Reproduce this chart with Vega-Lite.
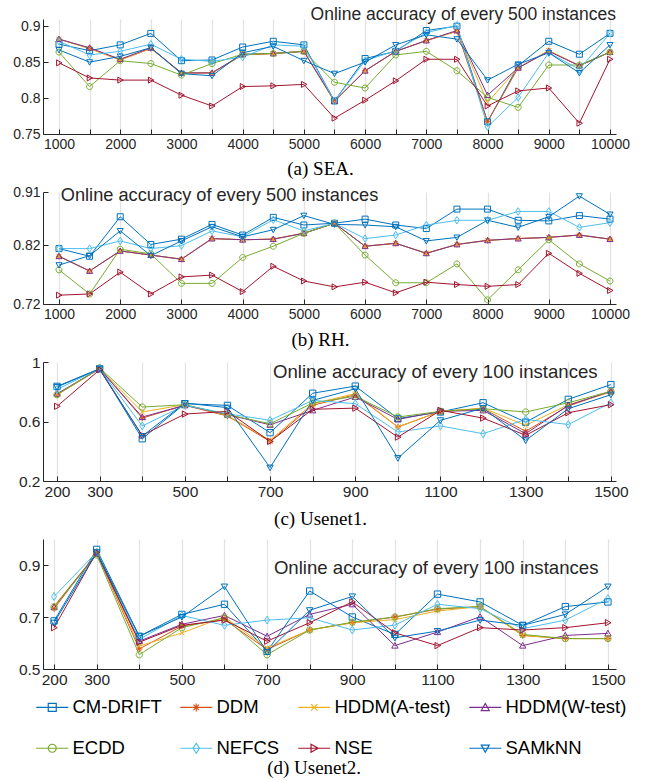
{
 "$schema": "https://vega.github.io/schema/vega-lite/v6.json",
 "padding": {"left": 12, "top": 5, "right": 5, "bottom": 0},
 "background": "white",
 "bounds": "flush",
 "spacing": 58,
 "title": {"text": "(d) Usenet2.", "orient": "bottom", "anchor": "middle", "font": "Liberation Serif", "fontSize": 19, "fontWeight": "normal", "color": "black", "offset": 1, "dx": -7},
 "resolve": {"scale": {"x": "independent", "y": "independent", "color": "shared", "shape": "shared"}},
 "datasets": {
  "sea": [
   {"m":"CM-DRIFT","x":1000,"y":0.875},{"m":"CM-DRIFT","x":1500,"y":0.866},{"m":"CM-DRIFT","x":2000,"y":0.874},{"m":"CM-DRIFT","x":2500,"y":0.890},{"m":"CM-DRIFT","x":3000,"y":0.852},{"m":"CM-DRIFT","x":3500,"y":0.853},{"m":"CM-DRIFT","x":4000,"y":0.871},{"m":"CM-DRIFT","x":4500,"y":0.879},{"m":"CM-DRIFT","x":5000,"y":0.874},{"m":"CM-DRIFT","x":5500,"y":0.796},{"m":"CM-DRIFT","x":6000,"y":0.855},{"m":"CM-DRIFT","x":6500,"y":0.865},{"m":"CM-DRIFT","x":7000,"y":0.894},{"m":"CM-DRIFT","x":7500,"y":0.900},{"m":"CM-DRIFT","x":8000,"y":0.767},{"m":"CM-DRIFT","x":8500,"y":0.845},{"m":"CM-DRIFT","x":9000,"y":0.879},{"m":"CM-DRIFT","x":9500,"y":0.861},{"m":"CM-DRIFT","x":10000,"y":0.890},
   {"m":"DDM","x":1000,"y":0.882},{"m":"DDM","x":1500,"y":0.869},{"m":"DDM","x":2000,"y":0.853},{"m":"DDM","x":2500,"y":0.869},{"m":"DDM","x":3000,"y":0.835},{"m":"DDM","x":3500,"y":0.835},{"m":"DDM","x":4000,"y":0.860},{"m":"DDM","x":4500,"y":0.862},{"m":"DDM","x":5000,"y":0.865},{"m":"DDM","x":5500,"y":0.795},{"m":"DDM","x":6000,"y":0.838},{"m":"DDM","x":6500,"y":0.865},{"m":"DDM","x":7000,"y":0.880},{"m":"DDM","x":7500,"y":0.893},{"m":"DDM","x":8000,"y":0.767},{"m":"DDM","x":8500,"y":0.842},{"m":"DDM","x":9000,"y":0.866},{"m":"DDM","x":9500,"y":0.845},{"m":"DDM","x":10000,"y":0.864},
   {"m":"HDDM(A-test)","x":1000,"y":0.882},{"m":"HDDM(A-test)","x":1500,"y":0.869},{"m":"HDDM(A-test)","x":2000,"y":0.853},{"m":"HDDM(A-test)","x":2500,"y":0.869},{"m":"HDDM(A-test)","x":3000,"y":0.835},{"m":"HDDM(A-test)","x":3500,"y":0.835},{"m":"HDDM(A-test)","x":4000,"y":0.860},{"m":"HDDM(A-test)","x":4500,"y":0.862},{"m":"HDDM(A-test)","x":5000,"y":0.865},{"m":"HDDM(A-test)","x":5500,"y":0.795},{"m":"HDDM(A-test)","x":6000,"y":0.838},{"m":"HDDM(A-test)","x":6500,"y":0.865},{"m":"HDDM(A-test)","x":7000,"y":0.880},{"m":"HDDM(A-test)","x":7500,"y":0.893},{"m":"HDDM(A-test)","x":8000,"y":0.794},{"m":"HDDM(A-test)","x":8500,"y":0.842},{"m":"HDDM(A-test)","x":9000,"y":0.866},{"m":"HDDM(A-test)","x":9500,"y":0.845},{"m":"HDDM(A-test)","x":10000,"y":0.864},
   {"m":"HDDM(W-test)","x":1000,"y":0.882},{"m":"HDDM(W-test)","x":1500,"y":0.870},{"m":"HDDM(W-test)","x":2000,"y":0.854},{"m":"HDDM(W-test)","x":2500,"y":0.870},{"m":"HDDM(W-test)","x":3000,"y":0.835},{"m":"HDDM(W-test)","x":3500,"y":0.835},{"m":"HDDM(W-test)","x":4000,"y":0.861},{"m":"HDDM(W-test)","x":4500,"y":0.862},{"m":"HDDM(W-test)","x":5000,"y":0.865},{"m":"HDDM(W-test)","x":5500,"y":0.796},{"m":"HDDM(W-test)","x":6000,"y":0.838},{"m":"HDDM(W-test)","x":6500,"y":0.865},{"m":"HDDM(W-test)","x":7000,"y":0.880},{"m":"HDDM(W-test)","x":7500,"y":0.894},{"m":"HDDM(W-test)","x":8000,"y":0.804},{"m":"HDDM(W-test)","x":8500,"y":0.842},{"m":"HDDM(W-test)","x":9000,"y":0.865},{"m":"HDDM(W-test)","x":9500,"y":0.845},{"m":"HDDM(W-test)","x":10000,"y":0.864},
   {"m":"ECDD","x":1000,"y":0.864},{"m":"ECDD","x":1500,"y":0.816},{"m":"ECDD","x":2000,"y":0.852},{"m":"ECDD","x":2500,"y":0.848},{"m":"ECDD","x":3000,"y":0.832},{"m":"ECDD","x":3500,"y":0.848},{"m":"ECDD","x":4000,"y":0.861},{"m":"ECDD","x":4500,"y":0.862},{"m":"ECDD","x":5000,"y":0.865},{"m":"ECDD","x":5500,"y":0.822},{"m":"ECDD","x":6000,"y":0.814},{"m":"ECDD","x":6500,"y":0.860},{"m":"ECDD","x":7000,"y":0.865},{"m":"ECDD","x":7500,"y":0.838},{"m":"ECDD","x":8000,"y":0.801},{"m":"ECDD","x":8500,"y":0.787},{"m":"ECDD","x":9000,"y":0.846},{"m":"ECDD","x":9500,"y":0.846},{"m":"ECDD","x":10000,"y":0.864},
   {"m":"NEFCS","x":1000,"y":0.879},{"m":"NEFCS","x":1500,"y":0.860},{"m":"NEFCS","x":2000,"y":0.865},{"m":"NEFCS","x":2500,"y":0.875},{"m":"NEFCS","x":3000,"y":0.854},{"m":"NEFCS","x":3500,"y":0.851},{"m":"NEFCS","x":4000,"y":0.857},{"m":"NEFCS","x":4500,"y":0.874},{"m":"NEFCS","x":5000,"y":0.872},{"m":"NEFCS","x":5500,"y":0.796},{"m":"NEFCS","x":6000,"y":0.852},{"m":"NEFCS","x":6500,"y":0.866},{"m":"NEFCS","x":7000,"y":0.891},{"m":"NEFCS","x":7500,"y":0.901},{"m":"NEFCS","x":8000,"y":0.760},{"m":"NEFCS","x":8500,"y":0.801},{"m":"NEFCS","x":9000,"y":0.863},{"m":"NEFCS","x":9500,"y":0.840},{"m":"NEFCS","x":10000,"y":0.890},
   {"m":"NSE","x":1000,"y":0.849},{"m":"NSE","x":1500,"y":0.828},{"m":"NSE","x":2000,"y":0.825},{"m":"NSE","x":2500,"y":0.825},{"m":"NSE","x":3000,"y":0.804},{"m":"NSE","x":3500,"y":0.789},{"m":"NSE","x":4000,"y":0.816},{"m":"NSE","x":4500,"y":0.817},{"m":"NSE","x":5000,"y":0.819},{"m":"NSE","x":5500,"y":0.772},{"m":"NSE","x":6000,"y":0.797},{"m":"NSE","x":6500,"y":0.824},{"m":"NSE","x":7000,"y":0.854},{"m":"NSE","x":7500,"y":0.854},{"m":"NSE","x":8000,"y":0.789},{"m":"NSE","x":8500,"y":0.810},{"m":"NSE","x":9000,"y":0.814},{"m":"NSE","x":9500,"y":0.765},{"m":"NSE","x":10000,"y":0.854},
   {"m":"SAMkNN","x":1000,"y":0.867},{"m":"SAMkNN","x":1500,"y":0.850},{"m":"SAMkNN","x":2000,"y":0.858},{"m":"SAMkNN","x":2500,"y":0.870},{"m":"SAMkNN","x":3000,"y":0.834},{"m":"SAMkNN","x":3500,"y":0.831},{"m":"SAMkNN","x":4000,"y":0.863},{"m":"SAMkNN","x":4500,"y":0.872},{"m":"SAMkNN","x":5000,"y":0.852},{"m":"SAMkNN","x":5500,"y":0.834},{"m":"SAMkNN","x":6000,"y":0.850},{"m":"SAMkNN","x":6500,"y":0.874},{"m":"SAMkNN","x":7000,"y":0.888},{"m":"SAMkNN","x":7500,"y":0.882},{"m":"SAMkNN","x":8000,"y":0.825},{"m":"SAMkNN","x":8500,"y":0.847},{"m":"SAMkNN","x":9000,"y":0.863},{"m":"SAMkNN","x":9500,"y":0.835},{"m":"SAMkNN","x":10000,"y":0.874}
  ],
  "rh": [
   {"m":"CM-DRIFT","x":1000,"y":0.814},{"m":"CM-DRIFT","x":1500,"y":0.801},{"m":"CM-DRIFT","x":2000,"y":0.868},{"m":"CM-DRIFT","x":2500,"y":0.821},{"m":"CM-DRIFT","x":3000,"y":0.830},{"m":"CM-DRIFT","x":3500,"y":0.855},{"m":"CM-DRIFT","x":4000,"y":0.837},{"m":"CM-DRIFT","x":4500,"y":0.867},{"m":"CM-DRIFT","x":5000,"y":0.854},{"m":"CM-DRIFT","x":5500,"y":0.857},{"m":"CM-DRIFT","x":6000,"y":0.864},{"m":"CM-DRIFT","x":6500,"y":0.854},{"m":"CM-DRIFT","x":7000,"y":0.848},{"m":"CM-DRIFT","x":7500,"y":0.881},{"m":"CM-DRIFT","x":8000,"y":0.881},{"m":"CM-DRIFT","x":8500,"y":0.862},{"m":"CM-DRIFT","x":9000,"y":0.861},{"m":"CM-DRIFT","x":9500,"y":0.870},{"m":"CM-DRIFT","x":10000,"y":0.864},
   {"m":"DDM","x":1000,"y":0.801},{"m":"DDM","x":1500,"y":0.776},{"m":"DDM","x":2000,"y":0.810},{"m":"DDM","x":2500,"y":0.803},{"m":"DDM","x":3000,"y":0.796},{"m":"DDM","x":3500,"y":0.831},{"m":"DDM","x":4000,"y":0.829},{"m":"DDM","x":4500,"y":0.830},{"m":"DDM","x":5000,"y":0.840},{"m":"DDM","x":5500,"y":0.857},{"m":"DDM","x":6000,"y":0.818},{"m":"DDM","x":6500,"y":0.823},{"m":"DDM","x":7000,"y":0.806},{"m":"DDM","x":7500,"y":0.821},{"m":"DDM","x":8000,"y":0.828},{"m":"DDM","x":8500,"y":0.831},{"m":"DDM","x":9000,"y":0.833},{"m":"DDM","x":9500,"y":0.837},{"m":"DDM","x":10000,"y":0.830},
   {"m":"HDDM(A-test)","x":1000,"y":0.801},{"m":"HDDM(A-test)","x":1500,"y":0.776},{"m":"HDDM(A-test)","x":2000,"y":0.810},{"m":"HDDM(A-test)","x":2500,"y":0.803},{"m":"HDDM(A-test)","x":3000,"y":0.796},{"m":"HDDM(A-test)","x":3500,"y":0.831},{"m":"HDDM(A-test)","x":4000,"y":0.829},{"m":"HDDM(A-test)","x":4500,"y":0.830},{"m":"HDDM(A-test)","x":5000,"y":0.840},{"m":"HDDM(A-test)","x":5500,"y":0.857},{"m":"HDDM(A-test)","x":6000,"y":0.818},{"m":"HDDM(A-test)","x":6500,"y":0.823},{"m":"HDDM(A-test)","x":7000,"y":0.806},{"m":"HDDM(A-test)","x":7500,"y":0.821},{"m":"HDDM(A-test)","x":8000,"y":0.828},{"m":"HDDM(A-test)","x":8500,"y":0.831},{"m":"HDDM(A-test)","x":9000,"y":0.833},{"m":"HDDM(A-test)","x":9500,"y":0.837},{"m":"HDDM(A-test)","x":10000,"y":0.830},
   {"m":"HDDM(W-test)","x":1000,"y":0.801},{"m":"HDDM(W-test)","x":1500,"y":0.776},{"m":"HDDM(W-test)","x":2000,"y":0.810},{"m":"HDDM(W-test)","x":2500,"y":0.803},{"m":"HDDM(W-test)","x":3000,"y":0.796},{"m":"HDDM(W-test)","x":3500,"y":0.831},{"m":"HDDM(W-test)","x":4000,"y":0.829},{"m":"HDDM(W-test)","x":4500,"y":0.830},{"m":"HDDM(W-test)","x":5000,"y":0.840},{"m":"HDDM(W-test)","x":5500,"y":0.857},{"m":"HDDM(W-test)","x":6000,"y":0.818},{"m":"HDDM(W-test)","x":6500,"y":0.823},{"m":"HDDM(W-test)","x":7000,"y":0.806},{"m":"HDDM(W-test)","x":7500,"y":0.821},{"m":"HDDM(W-test)","x":8000,"y":0.828},{"m":"HDDM(W-test)","x":8500,"y":0.831},{"m":"HDDM(W-test)","x":9000,"y":0.833},{"m":"HDDM(W-test)","x":9500,"y":0.837},{"m":"HDDM(W-test)","x":10000,"y":0.830},
   {"m":"ECDD","x":1000,"y":0.778},{"m":"ECDD","x":1500,"y":0.737},{"m":"ECDD","x":2000,"y":0.813},{"m":"ECDD","x":2500,"y":0.805},{"m":"ECDD","x":3000,"y":0.755},{"m":"ECDD","x":3500,"y":0.755},{"m":"ECDD","x":4000,"y":0.799},{"m":"ECDD","x":4500,"y":0.818},{"m":"ECDD","x":5000,"y":0.840},{"m":"ECDD","x":5500,"y":0.857},{"m":"ECDD","x":6000,"y":0.803},{"m":"ECDD","x":6500,"y":0.756},{"m":"ECDD","x":7000,"y":0.756},{"m":"ECDD","x":7500,"y":0.788},{"m":"ECDD","x":8000,"y":0.727},{"m":"ECDD","x":8500,"y":0.778},{"m":"ECDD","x":9000,"y":0.829},{"m":"ECDD","x":9500,"y":0.788},{"m":"ECDD","x":10000,"y":0.759},
   {"m":"NEFCS","x":1000,"y":0.814},{"m":"NEFCS","x":1500,"y":0.814},{"m":"NEFCS","x":2000,"y":0.827},{"m":"NEFCS","x":2500,"y":0.814},{"m":"NEFCS","x":3000,"y":0.819},{"m":"NEFCS","x":3500,"y":0.844},{"m":"NEFCS","x":4000,"y":0.834},{"m":"NEFCS","x":4500,"y":0.863},{"m":"NEFCS","x":5000,"y":0.844},{"m":"NEFCS","x":5500,"y":0.857},{"m":"NEFCS","x":6000,"y":0.831},{"m":"NEFCS","x":6500,"y":0.837},{"m":"NEFCS","x":7000,"y":0.854},{"m":"NEFCS","x":7500,"y":0.862},{"m":"NEFCS","x":8000,"y":0.862},{"m":"NEFCS","x":8500,"y":0.877},{"m":"NEFCS","x":9000,"y":0.877},{"m":"NEFCS","x":9500,"y":0.850},{"m":"NEFCS","x":10000,"y":0.858},
   {"m":"NSE","x":1000,"y":0.735},{"m":"NSE","x":1500,"y":0.737},{"m":"NSE","x":2000,"y":0.774},{"m":"NSE","x":2500,"y":0.737},{"m":"NSE","x":3000,"y":0.766},{"m":"NSE","x":3500,"y":0.769},{"m":"NSE","x":4000,"y":0.741},{"m":"NSE","x":4500,"y":0.784},{"m":"NSE","x":5000,"y":0.759},{"m":"NSE","x":5500,"y":0.749},{"m":"NSE","x":6000,"y":0.757},{"m":"NSE","x":6500,"y":0.739},{"m":"NSE","x":7000,"y":0.757},{"m":"NSE","x":7500,"y":0.753},{"m":"NSE","x":8000,"y":0.750},{"m":"NSE","x":8500,"y":0.753},{"m":"NSE","x":9000,"y":0.806},{"m":"NSE","x":9500,"y":0.772},{"m":"NSE","x":10000,"y":0.743},
   {"m":"SAMkNN","x":1000,"y":0.786},{"m":"SAMkNN","x":1500,"y":0.802},{"m":"SAMkNN","x":2000,"y":0.844},{"m":"SAMkNN","x":2500,"y":0.802},{"m":"SAMkNN","x":3000,"y":0.827},{"m":"SAMkNN","x":3500,"y":0.851},{"m":"SAMkNN","x":4000,"y":0.834},{"m":"SAMkNN","x":4500,"y":0.846},{"m":"SAMkNN","x":5000,"y":0.870},{"m":"SAMkNN","x":5500,"y":0.855},{"m":"SAMkNN","x":6000,"y":0.854},{"m":"SAMkNN","x":6500,"y":0.851},{"m":"SAMkNN","x":7000,"y":0.827},{"m":"SAMkNN","x":7500,"y":0.833},{"m":"SAMkNN","x":8000,"y":0.862},{"m":"SAMkNN","x":8500,"y":0.850},{"m":"SAMkNN","x":9000,"y":0.868},{"m":"SAMkNN","x":9500,"y":0.903},{"m":"SAMkNN","x":10000,"y":0.872}
  ],
  "u1": [
   {"m":"CM-DRIFT","x":200,"y":0.836},{"m":"CM-DRIFT","x":300,"y":0.955},{"m":"CM-DRIFT","x":400,"y":0.484},{"m":"CM-DRIFT","x":500,"y":0.720},{"m":"CM-DRIFT","x":600,"y":0.708},{"m":"CM-DRIFT","x":700,"y":0.525},{"m":"CM-DRIFT","x":800,"y":0.790},{"m":"CM-DRIFT","x":900,"y":0.838},{"m":"CM-DRIFT","x":1000,"y":0.620},{"m":"CM-DRIFT","x":1100,"y":0.664},{"m":"CM-DRIFT","x":1200,"y":0.726},{"m":"CM-DRIFT","x":1300,"y":0.596},{"m":"CM-DRIFT","x":1400,"y":0.749},{"m":"CM-DRIFT","x":1500,"y":0.848},
   {"m":"DDM","x":200,"y":0.780},{"m":"DDM","x":300,"y":0.955},{"m":"DDM","x":400,"y":0.623},{"m":"DDM","x":500,"y":0.709},{"m":"DDM","x":600,"y":0.637},{"m":"DDM","x":700,"y":0.466},{"m":"DDM","x":800,"y":0.709},{"m":"DDM","x":900,"y":0.780},{"m":"DDM","x":1000,"y":0.563},{"m":"DDM","x":1100,"y":0.668},{"m":"DDM","x":1200,"y":0.686},{"m":"DDM","x":1300,"y":0.534},{"m":"DDM","x":1400,"y":0.704},{"m":"DDM","x":1500,"y":0.803},
   {"m":"HDDM(A-test)","x":200,"y":0.780},{"m":"HDDM(A-test)","x":300,"y":0.955},{"m":"HDDM(A-test)","x":400,"y":0.664},{"m":"HDDM(A-test)","x":500,"y":0.713},{"m":"HDDM(A-test)","x":600,"y":0.641},{"m":"HDDM(A-test)","x":700,"y":0.473},{"m":"HDDM(A-test)","x":800,"y":0.720},{"m":"HDDM(A-test)","x":900,"y":0.787},{"m":"HDDM(A-test)","x":1000,"y":0.563},{"m":"HDDM(A-test)","x":1100,"y":0.668},{"m":"HDDM(A-test)","x":1200,"y":0.690},{"m":"HDDM(A-test)","x":1300,"y":0.574},{"m":"HDDM(A-test)","x":1400,"y":0.713},{"m":"HDDM(A-test)","x":1500,"y":0.798},
   {"m":"HDDM(W-test)","x":200,"y":0.787},{"m":"HDDM(W-test)","x":300,"y":0.955},{"m":"HDDM(W-test)","x":400,"y":0.630},{"m":"HDDM(W-test)","x":500,"y":0.709},{"m":"HDDM(W-test)","x":600,"y":0.646},{"m":"HDDM(W-test)","x":700,"y":0.578},{"m":"HDDM(W-test)","x":800,"y":0.675},{"m":"HDDM(W-test)","x":900,"y":0.765},{"m":"HDDM(W-test)","x":1000,"y":0.614},{"m":"HDDM(W-test)","x":1100,"y":0.668},{"m":"HDDM(W-test)","x":1200,"y":0.675},{"m":"HDDM(W-test)","x":1300,"y":0.518},{"m":"HDDM(W-test)","x":1400,"y":0.709},{"m":"HDDM(W-test)","x":1500,"y":0.803},
   {"m":"ECDD","x":200,"y":0.780},{"m":"ECDD","x":300,"y":0.960},{"m":"ECDD","x":400,"y":0.697},{"m":"ECDD","x":500,"y":0.713},{"m":"ECDD","x":600,"y":0.646},{"m":"ECDD","x":700,"y":0.585},{"m":"ECDD","x":800,"y":0.724},{"m":"ECDD","x":900,"y":0.770},{"m":"ECDD","x":1000,"y":0.630},{"m":"ECDD","x":1100,"y":0.668},{"m":"ECDD","x":1200,"y":0.686},{"m":"ECDD","x":1300,"y":0.664},{"m":"ECDD","x":1400,"y":0.726},{"m":"ECDD","x":1500,"y":0.803},
   {"m":"NEFCS","x":200,"y":0.816},{"m":"NEFCS","x":300,"y":0.955},{"m":"NEFCS","x":400,"y":0.570},{"m":"NEFCS","x":500,"y":0.709},{"m":"NEFCS","x":600,"y":0.652},{"m":"NEFCS","x":700,"y":0.608},{"m":"NEFCS","x":800,"y":0.742},{"m":"NEFCS","x":900,"y":0.720},{"m":"NEFCS","x":1000,"y":0.529},{"m":"NEFCS","x":1100,"y":0.570},{"m":"NEFCS","x":1200,"y":0.518},{"m":"NEFCS","x":1300,"y":0.614},{"m":"NEFCS","x":1400,"y":0.580},{"m":"NEFCS","x":1500,"y":0.726},
   {"m":"NSE","x":200,"y":0.702},{"m":"NSE","x":300,"y":0.948},{"m":"NSE","x":400,"y":0.507},{"m":"NSE","x":500,"y":0.650},{"m":"NSE","x":600,"y":0.668},{"m":"NSE","x":700,"y":0.466},{"m":"NSE","x":800,"y":0.682},{"m":"NSE","x":900,"y":0.690},{"m":"NSE","x":1000,"y":0.495},{"m":"NSE","x":1100,"y":0.675},{"m":"NSE","x":1200,"y":0.623},{"m":"NSE","x":1300,"y":0.507},{"m":"NSE","x":1400,"y":0.659},{"m":"NSE","x":1500,"y":0.713},
   {"m":"SAMkNN","x":200,"y":0.832},{"m":"SAMkNN","x":300,"y":0.955},{"m":"SAMkNN","x":400,"y":0.502},{"m":"SAMkNN","x":500,"y":0.724},{"m":"SAMkNN","x":600,"y":0.693},{"m":"SAMkNN","x":700,"y":0.290},{"m":"SAMkNN","x":800,"y":0.742},{"m":"SAMkNN","x":900,"y":0.820},{"m":"SAMkNN","x":1000,"y":0.354},{"m":"SAMkNN","x":1100,"y":0.608},{"m":"SAMkNN","x":1200,"y":0.690},{"m":"SAMkNN","x":1300,"y":0.473},{"m":"SAMkNN","x":1400,"y":0.686},{"m":"SAMkNN","x":1500,"y":0.780}
  ],
  "u2": [
   {"m":"CM-DRIFT","x":200,"y":0.685},{"m":"CM-DRIFT","x":300,"y":0.960},{"m":"CM-DRIFT","x":400,"y":0.626},{"m":"CM-DRIFT","x":500,"y":0.710},{"m":"CM-DRIFT","x":600,"y":0.749},{"m":"CM-DRIFT","x":700,"y":0.568},{"m":"CM-DRIFT","x":800,"y":0.800},{"m":"CM-DRIFT","x":900,"y":0.700},{"m":"CM-DRIFT","x":1000,"y":0.633},{"m":"CM-DRIFT","x":1100,"y":0.788},{"m":"CM-DRIFT","x":1200,"y":0.758},{"m":"CM-DRIFT","x":1300,"y":0.668},{"m":"CM-DRIFT","x":1400,"y":0.740},{"m":"CM-DRIFT","x":1500,"y":0.758},
   {"m":"DDM","x":200,"y":0.732},{"m":"DDM","x":300,"y":0.946},{"m":"DDM","x":400,"y":0.577},{"m":"DDM","x":500,"y":0.665},{"m":"DDM","x":600,"y":0.690},{"m":"DDM","x":700,"y":0.575},{"m":"DDM","x":800,"y":0.650},{"m":"DDM","x":900,"y":0.678},{"m":"DDM","x":1000,"y":0.700},{"m":"DDM","x":1100,"y":0.730},{"m":"DDM","x":1200,"y":0.740},{"m":"DDM","x":1300,"y":0.629},{"m":"DDM","x":1400,"y":0.617},{"m":"DDM","x":1500,"y":0.617},
   {"m":"HDDM(A-test)","x":200,"y":0.742},{"m":"HDDM(A-test)","x":300,"y":0.945},{"m":"HDDM(A-test)","x":400,"y":0.588},{"m":"HDDM(A-test)","x":500,"y":0.639},{"m":"HDDM(A-test)","x":600,"y":0.700},{"m":"HDDM(A-test)","x":700,"y":0.581},{"m":"HDDM(A-test)","x":800,"y":0.650},{"m":"HDDM(A-test)","x":900,"y":0.678},{"m":"HDDM(A-test)","x":1000,"y":0.690},{"m":"HDDM(A-test)","x":1100,"y":0.723},{"m":"HDDM(A-test)","x":1200,"y":0.740},{"m":"HDDM(A-test)","x":1300,"y":0.629},{"m":"HDDM(A-test)","x":1400,"y":0.617},{"m":"HDDM(A-test)","x":1500,"y":0.617},
   {"m":"HDDM(W-test)","x":200,"y":0.739},{"m":"HDDM(W-test)","x":300,"y":0.943},{"m":"HDDM(W-test)","x":400,"y":0.607},{"m":"HDDM(W-test)","x":500,"y":0.672},{"m":"HDDM(W-test)","x":600,"y":0.706},{"m":"HDDM(W-test)","x":700,"y":0.626},{"m":"HDDM(W-test)","x":800,"y":0.710},{"m":"HDDM(W-test)","x":900,"y":0.749},{"m":"HDDM(W-test)","x":1000,"y":0.590},{"m":"HDDM(W-test)","x":1100,"y":0.642},{"m":"HDDM(W-test)","x":1200,"y":0.701},{"m":"HDDM(W-test)","x":1300,"y":0.590},{"m":"HDDM(W-test)","x":1400,"y":0.629},{"m":"HDDM(W-test)","x":1500,"y":0.637},
   {"m":"ECDD","x":200,"y":0.739},{"m":"ECDD","x":300,"y":0.939},{"m":"ECDD","x":400,"y":0.555},{"m":"ECDD","x":500,"y":0.659},{"m":"ECDD","x":600,"y":0.697},{"m":"ECDD","x":700,"y":0.555},{"m":"ECDD","x":800,"y":0.650},{"m":"ECDD","x":900,"y":0.680},{"m":"ECDD","x":1000,"y":0.700},{"m":"ECDD","x":1100,"y":0.732},{"m":"ECDD","x":1200,"y":0.740},{"m":"ECDD","x":1300,"y":0.633},{"m":"ECDD","x":1400,"y":0.617},{"m":"ECDD","x":1500,"y":0.617},
   {"m":"NEFCS","x":200,"y":0.779},{"m":"NEFCS","x":300,"y":0.949},{"m":"NEFCS","x":400,"y":0.614},{"m":"NEFCS","x":500,"y":0.706},{"m":"NEFCS","x":600,"y":0.668},{"m":"NEFCS","x":700,"y":0.688},{"m":"NEFCS","x":800,"y":0.697},{"m":"NEFCS","x":900,"y":0.650},{"m":"NEFCS","x":1000,"y":0.669},{"m":"NEFCS","x":1100,"y":0.749},{"m":"NEFCS","x":1200,"y":0.732},{"m":"NEFCS","x":1300,"y":0.655},{"m":"NEFCS","x":1400,"y":0.688},{"m":"NEFCS","x":1500,"y":0.771},
   {"m":"NSE","x":200,"y":0.659},{"m":"NSE","x":300,"y":0.949},{"m":"NSE","x":400,"y":0.603},{"m":"NSE","x":500,"y":0.668},{"m":"NSE","x":600,"y":0.688},{"m":"NSE","x":700,"y":0.607},{"m":"NSE","x":800,"y":0.678},{"m":"NSE","x":900,"y":0.758},{"m":"NSE","x":1000,"y":0.639},{"m":"NSE","x":1100,"y":0.590},{"m":"NSE","x":1200,"y":0.659},{"m":"NSE","x":1300,"y":0.650},{"m":"NSE","x":1400,"y":0.659},{"m":"NSE","x":1500,"y":0.678},
   {"m":"SAMkNN","x":200,"y":0.678},{"m":"SAMkNN","x":300,"y":0.949},{"m":"SAMkNN","x":400,"y":0.626},{"m":"SAMkNN","x":500,"y":0.700},{"m":"SAMkNN","x":600,"y":0.817},{"m":"SAMkNN","x":700,"y":0.565},{"m":"SAMkNN","x":800,"y":0.726},{"m":"SAMkNN","x":900,"y":0.779},{"m":"SAMkNN","x":1000,"y":0.620},{"m":"SAMkNN","x":1100,"y":0.646},{"m":"SAMkNN","x":1200,"y":0.688},{"m":"SAMkNN","x":1300,"y":0.668},{"m":"SAMkNN","x":1400,"y":0.710},{"m":"SAMkNN","x":1500,"y":0.817}
  ]
 },
 "vconcat": [
  {
   "width": 573, "height": 115,
   "title": {"text": "Online accuracy of every 500 instances", "orient": "top", "anchor": "end", "frame": "group", "font": "Liberation Sans", "fontSize": 17.5, "fontWeight": "normal", "color": "#262626", "offset": -4},
   "data": {"name": "sea"},
   "encoding": {
    "x": {"field": "x", "type": "quantitative", "scale": {"domain": [739, 10098], "nice": false, "zero": false},
          "axis": {"values": [1000,1500,2000,2500,3000,3500,4000,4500,5000,5500,6000,6500,7000,7500,8000,8500,9000,9500,10000], "format": "d", "labelExpr": "datum.value % 1000 === 0 ? datum.label : ''", "grid": true, "labelFontSize": 14}},
    "y": {"field": "y", "type": "quantitative", "scale": {"domain": [0.75, 0.91], "nice": false, "zero": false},
          "axis": {"values": [0.75, 0.8, 0.85, 0.9], "format": "~g", "labelOverlap": false, "grid": false, "labelFontSize": 14}}
   },
   "layer": [
    {"mark": {"type": "line", "strokeWidth": 1},
     "encoding": {
      "color": {"field": "m", "type": "nominal", "scale": {"domain": ["CM-DRIFT","DDM","HDDM(A-test)","HDDM(W-test)","ECDD","NEFCS","NSE","SAMkNN"], "range": ["#0072BD","#D95319","#EDB120","#7E2F8E","#77AC30","#4DBEEE","#A2142F","#0072BD"]},
       "legend": {"title": null, "encode": {"symbols": {"update": {"shape": {"signal": "'M-4,0H4' + ['M-1,-1H1V1H-1Z','M-1,0H1M0,-1V1M-0.7,-0.7L0.7,0.7M-0.7,0.7L0.7,-0.7','M-0.8,-0.8L0.8,0.8M-0.8,0.8L0.8,-0.8','M0,-1L1,0.8H-1Z','M1,0A1,1,0,1,1,-1,0A1,1,0,1,1,1,0Z','M0,-1.25L0.8,0L0,1.25L-0.8,0Z','M1,0L-0.8,1L-0.8,-1Z','M0,1L1,-0.8H-1Z'][indexof(['CM-DRIFT','DDM','HDDM(A-test)','HDDM(W-test)','ECDD','NEFCS','NSE','SAMkNN'], datum.value)]"}, "fill": {"value": "transparent"}, "strokeWidth": {"value": 1.2}}}}}}}},
    {"mark": {"type": "point", "filled": false, "size": 36, "strokeWidth": 1, "opacity": 1},
     "encoding": {
       "color": {"field": "m", "type": "nominal", "legend": null},
       "shape": {"field": "m", "type": "nominal", "scale": {"domain": ["SAMkNN","NSE","NEFCS","ECDD","HDDM(W-test)","HDDM(A-test)","DDM","CM-DRIFT"], "range": ["M0,1L1,-0.8H-1Z","M1,0L-0.8,1L-0.8,-1Z","M0,-1.25L0.8,0L0,1.25L-0.8,0Z","M1,0A1,1,0,1,1,-1,0A1,1,0,1,1,1,0Z","M0,-1L1,0.8H-1Z","M-0.8,-0.8L0.8,0.8M-0.8,0.8L0.8,-0.8","M-1,0H1M0,-1V1M-0.7,-0.7L0.7,0.7M-0.7,0.7L0.7,-0.7","M-1,-1H1V1H-1Z"]}, "legend": null}}}
   ]
  },
  {
   "width": 573, "height": 112,
   "title": {"text": "(a) SEA.", "orient": "top", "anchor": "middle", "font": "Liberation Serif", "fontSize": 19, "fontWeight": "normal", "color": "black", "offset": 6, "dx": -9},
   "layer": [
    {"data": {"name": "rh"}, "mark": {"type": "line", "strokeWidth": 1},
     "encoding": {
      "x": {"field": "x", "type": "quantitative", "scale": {"domain": [739, 10098], "nice": false, "zero": false},
            "axis": {"values": [1000,1500,2000,2500,3000,3500,4000,4500,5000,5500,6000,6500,7000,7500,8000,8500,9000,9500,10000], "format": "d", "labelExpr": "datum.value % 1000 === 0 ? datum.label : ''", "grid": true, "labelFontSize": 14}},
      "y": {"field": "y", "type": "quantitative", "scale": {"domain": [0.72, 0.91], "nice": false, "zero": false},
            "axis": {"values": [0.72, 0.77, 0.82, 0.87, 0.91], "format": "~g", "labelOverlap": false, "grid": false, "labelFontSize": 14}},
      "color": {"field": "m", "type": "nominal"}}},
    {"data": {"name": "rh"}, "mark": {"type": "point", "filled": false, "size": 36, "strokeWidth": 1, "opacity": 1},
     "encoding": {"x": {"field": "x", "type": "quantitative"}, "y": {"field": "y", "type": "quantitative"},
       "color": {"field": "m", "type": "nominal", "legend": null}, "shape": {"field": "m", "type": "nominal", "legend": null}}},
    {"data": {"values": [{"t": "Online accuracy of every 500 instances"}]},
     "mark": {"type": "text", "align": "left", "baseline": "middle", "font": "Liberation Sans", "fontSize": 18.2, "fill": "#262626"},
     "encoding": {"x": {"datum": 1030, "type": "quantitative"}, "y": {"datum": 0.903, "type": "quantitative"}, "text": {"field": "t", "type": "nominal"}}}
   ]
  },
  {
   "width": 573, "height": 119,
   "title": {"text": "(b) RH.", "orient": "top", "anchor": "middle", "font": "Liberation Serif", "fontSize": 19, "fontWeight": "normal", "color": "black", "offset": 5, "dx": -9},
   "layer": [
    {"data": {"name": "u1"}, "mark": {"type": "line", "strokeWidth": 1},
     "encoding": {
      "x": {"field": "x", "type": "quantitative", "scale": {"domain": [167, 1512], "nice": false, "zero": false},
            "axis": {"values": [200,300,400,500,600,700,800,900,1000,1100,1200,1300,1400,1500], "format": "d", "labelExpr": "datum.value === 200 || datum.value % 200 === 100 ? datum.label : ''", "grid": true, "labelFontSize": 15.5}},
      "y": {"field": "y", "type": "quantitative", "scale": {"domain": [0.2, 1], "nice": false, "zero": false},
            "axis": {"values": [0.2,0.3,0.4,0.5,0.6,0.7,0.8,0.9,1], "format": "~g", "labelExpr": "indexof([0.2,0.4,0.6,0.8,1], datum.value) >= 0 ? datum.label : ''", "labelOverlap": false, "grid": false, "labelFontSize": 15.5}},
      "color": {"field": "m", "type": "nominal"}}},
    {"data": {"name": "u1"}, "mark": {"type": "point", "filled": false, "size": 40, "strokeWidth": 1, "opacity": 1},
     "encoding": {"x": {"field": "x", "type": "quantitative"}, "y": {"field": "y", "type": "quantitative"},
       "color": {"field": "m", "type": "nominal", "legend": null}, "shape": {"field": "m", "type": "nominal", "legend": null}}},
    {"data": {"values": [{"t": "Online accuracy of every 100 instances"}]},
     "mark": {"type": "text", "align": "left", "baseline": "middle", "font": "Liberation Sans", "fontSize": 18.6, "fill": "#262626"},
     "encoding": {"x": {"datum": 707, "type": "quantitative"}, "y": {"datum": 0.933, "type": "quantitative"}, "text": {"field": "t", "type": "nominal"}}}
   ]
  },
  {
   "width": 573, "height": 130,
   "title": {"text": "(c) Usenet1.", "orient": "top", "anchor": "middle", "font": "Liberation Serif", "fontSize": 19, "fontWeight": "normal", "color": "black", "offset": 10, "dx": -9},
   "layer": [
    {"data": {"name": "u2"}, "mark": {"type": "line", "strokeWidth": 1},
     "encoding": {
      "x": {"field": "x", "type": "quantitative", "scale": {"domain": [174, 1519], "nice": false, "zero": false},
            "axis": {"values": [200,300,400,500,600,700,800,900,1000,1100,1200,1300,1400,1500], "format": "d", "labelExpr": "datum.value === 200 || datum.value % 200 === 100 ? datum.label : ''", "grid": true, "labelFontSize": 15.5}},
      "y": {"field": "y", "type": "quantitative", "scale": {"domain": [0.5, 1], "nice": false, "zero": false},
            "axis": {"values": [0.5,0.6,0.7,0.8,0.9,1], "format": "~g", "labelExpr": "indexof([0.5,0.7,0.9], datum.value) >= 0 ? datum.label : ''", "labelOverlap": false, "grid": false, "labelFontSize": 15.5}},
      "color": {"field": "m", "type": "nominal"}}},
    {"data": {"name": "u2"}, "mark": {"type": "point", "filled": false, "size": 40, "strokeWidth": 1, "opacity": 1},
     "encoding": {"x": {"field": "x", "type": "quantitative"}, "y": {"field": "y", "type": "quantitative"},
       "color": {"field": "m", "type": "nominal", "legend": null}, "shape": {"field": "m", "type": "nominal", "legend": null}}},
    {"data": {"values": [{"t": "Online accuracy of every 100 instances"}]},
     "mark": {"type": "text", "align": "left", "baseline": "middle", "font": "Liberation Sans", "fontSize": 18.6, "fill": "#262626"},
     "encoding": {"x": {"datum": 716, "type": "quantitative"}, "y": {"datum": 0.888, "type": "quantitative"}, "text": {"field": "t", "type": "nominal"}}}
   ]
  }
 ],
 "config": {
  "view": {"stroke": null},
  "axis": {"labelFont": "Liberation Sans", "labelColor": "#262626", "domainColor": "#262626", "domainWidth": 1, "tickColor": "#262626", "tickSize": -5, "tickWidth": 1, "labelPadding": 8, "gridColor": "#e2e2e2", "gridWidth": 1.2, "title": null, "labelOverlap": false},
  "legend": {"orient": "bottom", "direction": "horizontal", "columns": 4, "gridAlign": "each", "labelFont": "Liberation Sans", "labelFontSize": 18.5, "labelColor": "black", "symbolSize": 64, "symbolStrokeWidth": 1.2, "labelOffset": 11, "columnPadding": 15, "rowPadding": 22, "offset": 10, "labelLimit": 300}
 }
}
